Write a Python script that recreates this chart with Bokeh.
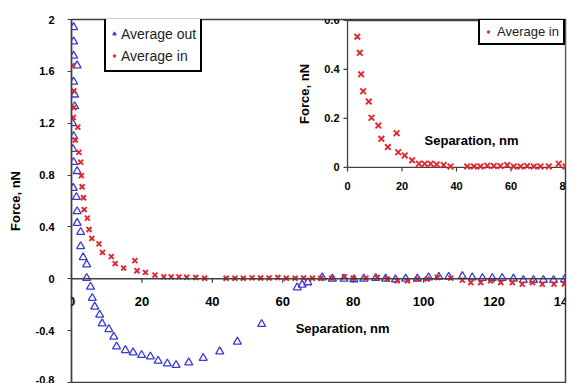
import math
from bokeh.plotting import figure
from bokeh.models import (Range1d, FixedTicker, Span, Legend, LegendItem, Label,
                          LabelSet, ColumnDataSource)
from bokeh.core.properties import value
from bokeh.embed import file_html
from bokeh.resources import INLINE

# ---------------- data ----------------
out_x = [0.6, 0.6, 0.6, 1.6, 0.6, 0.9, 0.9, 0.3, 0.6, 0.4, 0.6, 1.6, 0.5, 1.4, 1.6, 1.6,
         2.6, 2.6, 3.3, 4.3, 4.3, 5.4, 5.9, 6.6, 8.0, 8.7, 10.6, 12.0, 12.8, 15.3, 17.5,
         19.9, 22.4, 24.6, 27.2, 29.7, 33.3, 37.4, 42.1, 47.1, 54.0, 64.1, 65.5, 67.1,
         71.2, 74.1, 77.4, 80.2, 83.0, 86.4, 89.2, 92.0, 94.9, 98.2, 101.4, 104.3, 107.1,
         111.0, 113.8, 116.7, 119.5, 122.3, 125.5, 128.3, 131.2, 134.0, 136.9, 140.0]
out_y = [1.94, 1.83, 1.72, 1.645, 1.52, 1.42, 1.33, 1.2, 1.10, 1.0, 0.90, 0.83, 0.70, 0.63,
         0.52, 0.43, 0.36, 0.25, 0.165, 0.11, 0.005, -0.062, -0.149, -0.216, -0.278, -0.345,
         -0.389, -0.448, -0.523, -0.551, -0.569, -0.589, -0.6, -0.633, -0.654, -0.666,
         -0.646, -0.612, -0.561, -0.486, -0.35, -0.067, -0.046, -0.028, 0.01, 0.0, 0.0,
         -0.005, 0.0, 0.005, 0.0, -0.005, 0.0, 0.0, 0.01, 0.015, 0.015, 0.02, 0.01, 0.005,
         0.005, 0.005, 0.0, -0.01, -0.01, -0.01, -0.01, -0.005]

in_x = [0.2, 0.65, 0.65, 0.5, 1.8, 1.1, 2.1, 2.6, 2.8, 3.0, 3.4, 3.6, 4.5, 5.0, 5.75, 7.8,
        8.8, 11.3, 12.4, 14.8, 18.0, 18.6, 21.0, 23.7, 26.2, 28.3, 30.5, 32.7, 35.3, 37.8,
        43.9, 46.4, 48.8, 51.3, 53.7, 56.1, 58.6, 61.0, 63.5, 65.9, 68.4, 70.8, 73.9, 77.5,
        80.0, 83.6, 86.8, 89.7, 92.5, 95.4, 98.2, 101.0, 103.9, 107.7, 111.0, 113.4, 116.2,
        119.0, 121.9, 125.2, 128.0, 130.9, 133.7, 137.0, 139.9]
in_y = [1.645, 1.45, 1.32, 1.245, 1.17, 1.07, 0.975, 0.90, 0.795, 0.71, 0.625, 0.534, 0.468,
        0.38, 0.311, 0.269, 0.203, 0.171, 0.117, 0.083, 0.14, 0.062, 0.049, 0.029, 0.015,
        0.015, 0.015, 0.012, 0.01, 0.004, 0.004, 0.004, 0.004, 0.007, 0.006, 0.006, 0.01,
        0.004, 0.004, 0.006, 0.004, 0.004, 0.004, 0.015, 0.004, 0.005, 0.01, -0.002, -0.015,
        -0.015, -0.002, -0.002, 0.01, 0.005, -0.01, -0.029, -0.029, -0.015, -0.029, -0.029,
        -0.041, -0.029, -0.041, -0.041, -0.041]

main_xticks = [0, 20, 40, 60, 80, 100, 120, 140]
main_xlabels = ["0", "20", "40", "60", "80", "100", "120", "140"]
main_yticks = [-0.8, -0.4, 0, 0.4, 0.8, 1.2, 1.6, 2]
main_ylabels = ["-0.8", "-0.4", "0", "0.4", "0.8", "1.2", "1.6", "2"]
inset_xticks = [0, 20, 40, 60, 80]
inset_xlabels = ["0", "20", "40", "60", "80"]
inset_yticks = [0, 0.2, 0.4, 0.6]
inset_ylabels = ["0", "0.2", "0.4", "0.6"]

series_out = "Average out"
series_in = "Average in"
x_title = "Separation, nm"
y_title = "Force, nN"

# ---------------- style ----------------
FONT = "Liberation Sans"
BLUE = "#3a3ad2"
RED = "#e3262e"
AXIS = "#404040"

p = figure(width=573, height=383, output_backend="svg", toolbar_location=None,
           x_range=Range1d(0, 140.28), y_range=Range1d(-0.8, 2.0),
           x_axis_location=None, min_border_left=71, min_border_right=8,
           min_border_top=19, min_border_bottom=1)
p.extra_x_ranges = {"ix": Range1d(-101.3, 80)}
p.extra_y_ranges = {"iy": Range1d(-0.878, 0.604)}
p.grid.grid_line_color = None
p.outline_line_color = AXIS
p.outline_line_width = 1.5
p.outline_line_alpha = 1.0
p.background_fill_color = "white"
p.border_fill_color = "white"

ax = p.yaxis[0]
ax.ticker = FixedTicker(ticks=main_yticks)
ax.major_label_overrides = {t: l for t, l in zip(main_yticks, main_ylabels)}
ax.major_label_text_font = FONT
ax.major_label_text_font_style = "bold"
ax.major_label_text_font_size = "11px"
ax.major_label_text_color = "black"
ax.major_label_standoff = 13
ax.major_tick_out = 4
ax.major_tick_in = 0
ax.minor_tick_out = 0
ax.minor_tick_in = 0
ax.axis_line_color = AXIS
ax.axis_line_width = 1.3
ax.major_tick_line_color = AXIS
ax.axis_label = y_title
ax.axis_label_text_font = FONT
ax.axis_label_text_font_style = "bold"
ax.axis_label_text_font_size = "13px"
ax.axis_label_text_color = "black"
ax.axis_label_standoff = 10

# main x axis drawn at y = 0
p.add_layout(Span(location=0, dimension="width", line_color=AXIS, line_width=1.5))
p.ray(x=main_xticks, y=[0] * len(main_xticks), length=4, length_units="screen",
      angle=-math.pi / 2, line_color=AXIS, line_width=1.2)
main_xsrc = ColumnDataSource(dict(x=main_xticks, y=[0] * len(main_xticks), t=main_xlabels))
p.add_layout(LabelSet(x="x", y="y", text="t", source=main_xsrc, y_offset=-23,
                      text_align="center", text_baseline="middle",
                      text_font=value(FONT), text_font_style="bold",
                      text_font_size="13px", text_color="black"))
p.add_layout(Label(x=77, y=-0.386, text=x_title, text_align="center",
                   text_baseline="middle", text_font=FONT,
                   text_font_style="bold", text_font_size="13px", text_color="black"))

# main data
r_out = p.scatter(out_x, out_y, marker="triangle", size=8, fill_color=None,
                  line_color=BLUE, line_width=1.3)
r_in = p.scatter(in_x, in_y, marker="x", size=7, line_color=RED, line_width=1.9)

# ---------------- inset ----------------
p.quad(left=inset_xticks[0], right=inset_xticks[-1], bottom=inset_yticks[0],
       top=inset_yticks[-1], x_range_name="ix", y_range_name="iy",
       fill_color="white", line_color=AXIS, line_width=1.3)
p.ray(x=inset_xticks, y=[0] * len(inset_xticks), length=4, length_units="screen",
      angle=-math.pi / 2, line_color=AXIS, line_width=1.2,
      x_range_name="ix", y_range_name="iy")
p.ray(x=[0] * len(inset_yticks), y=inset_yticks, length=4, length_units="screen",
      angle=math.pi, line_color=AXIS, line_width=1.2,
      x_range_name="ix", y_range_name="iy")
r_in2 = p.scatter(in_x, in_y, marker="x", size=8, line_color=RED, line_width=1.9,
                  x_range_name="ix", y_range_name="iy")

ixsrc = ColumnDataSource(dict(x=inset_xticks, y=[0] * len(inset_xticks), t=inset_xlabels))
p.add_layout(LabelSet(x="x", y="y", text="t", source=ixsrc, y_offset=-19,
                      x_range_name="ix", y_range_name="iy",
                      text_align="center", text_baseline="middle",
                      text_font=value(FONT), text_font_style="bold",
                      text_font_size="11px", text_color="black"))
iysrc = ColumnDataSource(dict(x=[0] * len(inset_yticks), y=inset_yticks, t=inset_ylabels))
p.add_layout(LabelSet(x="x", y="y", text="t", source=iysrc, x_offset=-8,
                      x_range_name="ix", y_range_name="iy",
                      text_align="right", text_baseline="middle",
                      text_font=value(FONT), text_font_style="bold",
                      text_font_size="11px", text_color="black"))
p.add_layout(Label(x=0, y=0.3, x_offset=-43, text=y_title, angle=math.pi / 2,
                   x_range_name="ix", y_range_name="iy",
                   text_align="center", text_baseline="middle", text_font=FONT,
                   text_font_style="bold", text_font_size="13px", text_color="black"))
p.add_layout(Label(x=45.5, y=0.11, text=x_title, x_range_name="ix", y_range_name="iy",
                   text_align="center", text_baseline="middle", text_font=FONT,
                   text_font_style="bold", text_font_size="13px", text_color="black"))

# ---------------- legends ----------------
leg1 = Legend(items=[LegendItem(label=series_out, renderers=[r_out]),
                     LegendItem(label=series_in, renderers=[r_in])],
              location=(33, 310), margin=0, padding=4, spacing=1,
              glyph_width=8, glyph_height=21, label_height=21, label_standoff=3,
              label_text_font=FONT, label_text_font_size="14px", label_text_color="#222222",
              border_line_color="black", border_line_width=2, border_line_alpha=1.0,
              background_fill_color="white", background_fill_alpha=1.0)
leg2 = Legend(items=[LegendItem(label=series_in, renderers=[r_in2])],
              location=(407, 337), margin=0, padding=4, spacing=0,
              glyph_width=8, glyph_height=13, label_height=13, label_standoff=5,
              label_text_font=FONT, label_text_font_size="13px", label_text_color="#222222",
              border_line_color="black", border_line_width=2, border_line_alpha=1.0,
              background_fill_color="white", background_fill_alpha=1.0)
p.add_layout(leg1)
p.add_layout(leg2)

open("out.html", "w").write(file_html(p, INLINE))
